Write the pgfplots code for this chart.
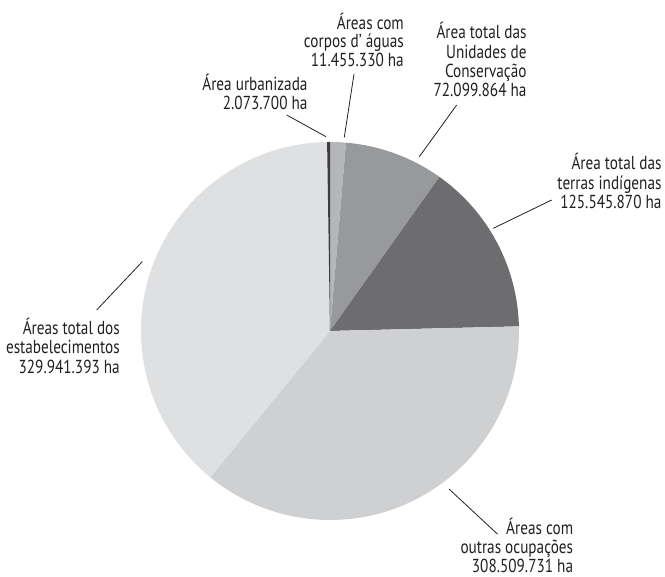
\documentclass[border=0pt]{standalone}
\usepackage{pgfplots}
\usepackage{pgfplotstable}
\pgfplotsset{compat=1.18}
\usepackage{fontspec}
\setmainfont{PT Sans}[FakeStretch=0.81]

\definecolor{water}{HTML}{B5B6B8}
\definecolor{uc}{HTML}{98999B}
\definecolor{ti}{HTML}{6D6D6F}
\definecolor{outras}{HTML}{CFD0D2}
\definecolor{estab}{HTML}{DFE0E1}
\definecolor{urban}{HTML}{3D3D3F}
\definecolor{txt}{HTML}{231F20}

% area in ha, clockwise from 12 o'clock
\pgfplotstableread{
value shade
11455330 water
72099864 uc
125545870 ti
308509731 outras
329941393 estab
2073700 urban
}\pietable

\edef\pietotal{\fpeval{11455330+72099864+125545870+308509731+329941393+2073700}}

\begin{document}
\begin{tikzpicture}
\begin{axis}[
    width=665pt, height=577pt,
    scale only axis,
    xmin=0, xmax=665, ymin=-577, ymax=0,
    hide axis,
    clip=false,
]
\path (axis cs:0,0) rectangle (axis cs:665,-577);
\gdef\piestart{90}
\pgfplotsforeachungrouped \i in {0,...,5}{%
  \pgfplotstablegetelem{\i}{value}\of\pietable \let\pv\pgfplotsretval
  \pgfplotstablegetelem{\i}{shade}\of\pietable \let\pc\pgfplotsretval
  \edef\pieend{\fpeval{\piestart - \pv/\pietotal*360}}%
  \edef\cmd{\noexpand\fill[\pc] (axis cs:330,-331) -- ++(\piestart:189pt)
    arc[start angle=\piestart, end angle=\pieend, radius=189pt] -- cycle;}%
  \cmd
  \global\let\piestart\pieend
}

% leader lines
\begin{scope}[draw=txt, line width=0.8pt]
\draw (axis cs:286.7,-115) -- (axis cs:326,-136.7);
\draw (axis cs:354,-74) -- (axis cs:344.3,-137.3);
\draw (axis cs:456.7,-105) -- (axis cs:419.3,-156.7);
\draw (axis cs:551.7,-200) -- (axis cs:493.3,-228.3);
\draw (axis cs:142.3,-261.7) -- (axis cs:96.7,-310);
\draw (axis cs:449.3,-489.3) -- (axis cs:497.7,-534.3);
\end{scope}

% labels
\begin{scope}[every node/.style={anchor=base east, inner sep=0pt, text=txt,
    font=\fontsize{18.8}{19}\selectfont}]
\node at (axis cs:404,-29.3) {Áreas com};
\node at (axis cs:404,-48) {corpos d’ águas};
\node at (axis cs:404,-66.5) {11.455.330 ha};

\node at (axis cs:307.7,-91) {Área urbanizada};
\node at (axis cs:307.7,-110) {2.073.700 ha};

\node at (axis cs:526.7,-39) {Área total das};
\node at (axis cs:526.7,-58.3) {Unidades de};
\node at (axis cs:526.7,-77.3) {Conservação};
\node at (axis cs:526.7,-96.5) {72.099.864 ha};

\node at (axis cs:661.7,-170) {Área total das};
\node at (axis cs:661.7,-189.3) {terras indígenas};
\node at (axis cs:661.7,-208.3) {125.545.870 ha};

\node at (axis cs:120,-335) {Áreas total dos};
\node at (axis cs:120,-354) {estabelecimentos};
\node at (axis cs:120,-373.5) {329.941.393 ha};

\node at (axis cs:573.3,-535) {Áreas com};
\node at (axis cs:573.3,-554) {outras ocupações};
\node at (axis cs:573.3,-573) {308.509.731 ha};
\end{scope}
\end{axis}
\end{tikzpicture}
\end{document}
